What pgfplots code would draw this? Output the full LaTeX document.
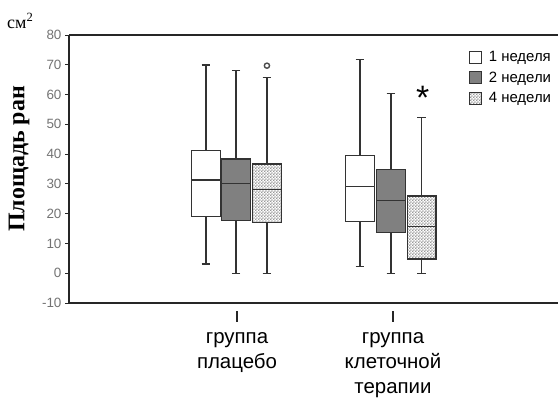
\documentclass[border=0pt]{standalone}
\usepackage{pgfplots}
\pgfplotsset{compat=1.18}
\usepgfplotslibrary{statistics}
\usetikzlibrary{patterns}
\usepackage{fontspec}
\setmainfont{Liberation Sans}
\newfontfamily\seriffont{Liberation Serif}
\pgfdeclarepatternformonly{finechecker}{\pgfpointorigin}{\pgfpoint{3.2bp}{3.2bp}}{\pgfpoint{3.2bp}{3.2bp}}{%
  \pgfpathrectangle{\pgfpointorigin}{\pgfpoint{1.6bp}{1.6bp}}%
  \pgfpathrectangle{\pgfpoint{1.6bp}{1.6bp}}{\pgfpoint{1.6bp}{1.6bp}}%
  \pgfusepath{fill}}
\colorlet{boxline}{black!80}
\colorlet{darkfill}{black!50}
\colorlet{checkcol}{black!40}
\begin{document}
\begin{tikzpicture}[x=1bp,y=1bp]
\useasboundingbox (0,0) rectangle (558,398);
\begin{axis}[
  at={(69bp,95bp)}, anchor=south west, scale only axis,
  width=489bp, height=268bp,
  xmin=-0.077, xmax=3.058, ymin=-10, ymax=80,
  axis x line=box, axis y line=left,
  axis line style={-, line width=1.3bp, black!85},
  ytick={-10,0,10,20,30,40,50,60,70,80},
  ytick pos=left, tick align=outside, major tick length=4bp,
  tick style={black!85, line width=1bp},
  /pgf/number format/assume math mode=true,
  yticklabel style={font=\fontsize{13.5}{13.5}\selectfont, text=black!55},
  xtick=\empty,
  boxplot/draw direction=y,
  legend style={at={(0.818,0.946)}, anchor=north west, draw=none, fill=none,
    font=\fontsize{15}{15}\selectfont, row sep=4.5bp, inner sep=0pt},
  legend cell align=left,
  legend image code/.code={\draw[#1, line width=0.8bp] (0bp,-6bp) rectangle (12bp,6bp); \path (17bp,0bp);},
  clip=false,
]
\addlegendimage{draw=boxline, fill=white}
\addlegendentry{1 неделя}
\addlegendimage{draw=boxline, fill=darkfill}
\addlegendentry{2 недели}
\addlegendimage{draw=boxline, pattern=finechecker, pattern color=checkcol}
\addlegendentry{4 недели}

% group: placebo
\addplot[forget plot, boxplot prepared={draw position=0.801, lower whisker=3.1, lower quartile=19.0, median=31.3, upper quartile=41.1, upper whisker=69.9, box extend=0.184, whisker extend=0.055}, draw=boxline, fill=white, line width=1.3bp] coordinates {};
\addplot[forget plot, boxplot prepared={draw position=0.994, lower whisker=0, lower quartile=17.6, median=30.2, upper quartile=38.4, upper whisker=68.0, box extend=0.184, whisker extend=0.055}, draw=boxline, fill=darkfill, line width=1.3bp] coordinates {};
\addplot[forget plot, boxplot prepared={draw position=1.192, lower whisker=0, lower quartile=17.1, median=28.2, upper quartile=36.7, upper whisker=65.8, box extend=0.184, whisker extend=0.055}, draw=boxline, pattern=finechecker, pattern color=checkcol, line width=1.3bp, mark=o, mark size=2.6bp, mark options={draw=black!70, line width=1.4bp, fill=none}] coordinates {(0,69.7)};

% group: cell therapy
\addplot[forget plot, boxplot prepared={draw position=1.788, lower whisker=2.2, lower quartile=17.3, median=29.1, upper quartile=39.6, upper whisker=71.8, box extend=0.184, whisker extend=0.055}, draw=boxline, fill=white, line width=1.3bp] coordinates {};
\addplot[forget plot, boxplot prepared={draw position=1.987, lower whisker=0, lower quartile=13.7, median=24.4, upper quartile=34.9, upper whisker=60.4, box extend=0.184, whisker extend=0.055}, draw=boxline, fill=darkfill, line width=1.3bp] coordinates {};
\addplot[forget plot, boxplot prepared={draw position=2.183, lower whisker=0, lower quartile=4.8, median=15.6, upper quartile=25.9, upper whisker=52.2, box extend=0.184, whisker extend=0.055}, draw=boxline, pattern=finechecker, pattern color=checkcol, line width=1.3bp] coordinates {};

\node[font=\fontsize{34}{34}\selectfont, anchor=center] at (axis cs:2.19,59) {*};
\draw[line width=1.3bp, black!85] ([yshift=-8bp]axis cs:1,-10) -- ([yshift=-19bp]axis cs:1,-10);
\draw[line width=1.3bp, black!85] ([yshift=-8bp]axis cs:2,-10) -- ([yshift=-19bp]axis cs:2,-10);
\node[align=center, anchor=north, inner sep=0pt, font=\fontsize{20.5}{25}\selectfont] at ([yshift=-29bp]axis cs:1,-10) {группа\\плацебо};
\node[align=center, anchor=north, inner sep=0pt, font=\fontsize{20.5}{25}\selectfont] at ([yshift=-29bp]axis cs:2,-10) {группа\\клеточной\\терапии};
\end{axis}
\node[rotate=90, font=\seriffont\bfseries\fontsize{24}{24}\selectfont] at (19,239) {Площадь ран};
\node[anchor=base west, inner sep=0pt, font=\seriffont\fontsize{18}{18}\selectfont] at (7,370) {см\textsuperscript{2}};
\end{tikzpicture}
\end{document}
